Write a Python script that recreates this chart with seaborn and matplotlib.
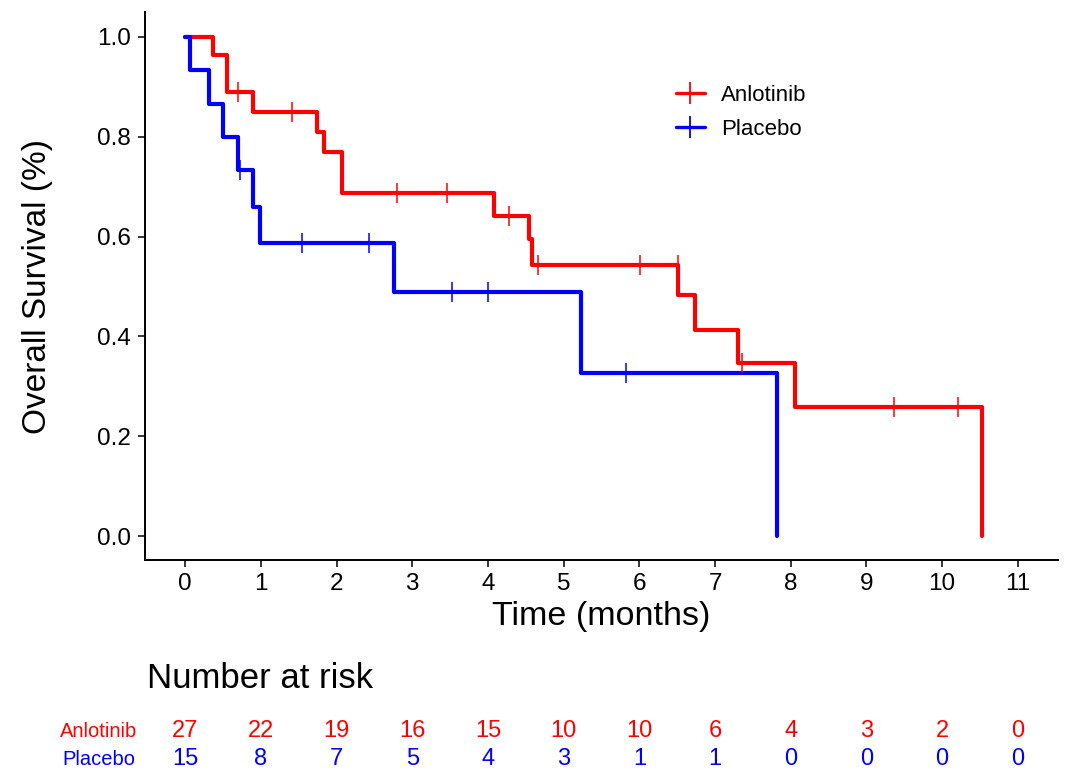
import numpy as np
import pandas as pd
import matplotlib
matplotlib.use("Agg")
import matplotlib.pyplot as plt
import matplotlib.transforms as mtransforms
from matplotlib.lines import Line2D
import seaborn as sns

# ---- data ----
anl_time = [0.0, 0.37, 0.55, 0.90, 1.74, 1.84, 2.07, 4.08, 4.54, 4.58, 6.51, 6.74, 7.30, 8.05, 10.53]
anl_surv = [1.0, 0.963, 0.889, 0.850, 0.810, 0.769, 0.688, 0.641, 0.595, 0.543, 0.483, 0.413, 0.347, 0.259, 0.0]
anl_censor = [0.70, 1.41, 2.80, 3.46, 4.28, 4.66, 6.01, 6.51, 7.35, 9.37, 10.21]

pla_time = [0.0, 0.07, 0.31, 0.50, 0.70, 0.90, 0.99, 2.76, 5.23, 7.82]
pla_surv = [1.0, 0.933, 0.866, 0.800, 0.733, 0.660, 0.587, 0.489, 0.326, 0.0]
pla_censor = [0.73, 1.55, 2.43, 3.52, 4.00, 5.82]

groups = ["Anlotinib", "Placebo"]
colors = {"Anlotinib": "#FF0000", "Placebo": "#0000FF"}

risk_times = list(range(0, 12))
risk_anl = [27, 22, 19, 16, 15, 10, 10, 6, 4, 3, 2, 0]
risk_pla = [15, 8, 7, 5, 4, 3, 1, 1, 0, 0, 0, 0]

x_ticks = list(range(0, 12))
y_ticks = [0.0, 0.2, 0.4, 0.6, 0.8, 1.0]
y_ticklabels = ["0.0", "0.2", "0.4", "0.6", "0.8", "1.0"]

# ---- build tables ----
curve_df = pd.concat([
    pd.DataFrame({"time": anl_time, "surv": anl_surv, "group": "Anlotinib"}),
    pd.DataFrame({"time": pla_time, "surv": pla_surv, "group": "Placebo"}),
], ignore_index=True)


def level_before(times, survs, t):
    # survival level in effect just before / at time t (censor at an event time
    # sits on the upper level)
    idx = np.searchsorted(times, t, side="left") - 1
    return survs[max(idx, 0)]

cens_rows = []
for t in anl_censor:
    cens_rows.append((t, level_before(anl_time, anl_surv, t), "Anlotinib"))
for t in pla_censor:
    cens_rows.append((t, level_before(pla_time, pla_surv, t), "Placebo"))
cens_df = pd.DataFrame(cens_rows, columns=["time", "surv", "group"])

# ---- plot ----
sns.set_theme(style="ticks")
plt.rcParams["font.family"] = ["Liberation Sans", "DejaVu Sans"]
plt.rcParams["text.color"] = "black"
plt.rcParams["axes.labelcolor"] = "black"
plt.rcParams["xtick.color"] = "black"
plt.rcParams["ytick.color"] = "black"

fig = plt.figure(figsize=(10.8, 7.79), dpi=100)
ax = fig.add_axes([145 / 1080, 1 - 560 / 779, (1058 - 145) / 1080, (560 - 12) / 779])

sns.lineplot(data=curve_df, x="time", y="surv", hue="group", palette=colors,
             estimator=None, sort=False, drawstyle="steps-post", linewidth=3.0,
             legend=False, ax=ax)
sns.scatterplot(data=cens_df, x="time", y="surv", hue="group", palette=colors,
                marker="|", s=210, linewidth=1.1, legend=False, ax=ax, zorder=3)

ax.set_xlim(-0.53, 11.53)
ax.set_ylim(-0.048, 1.05)
ax.set_xticks(x_ticks)
ax.set_xticklabels([str(v) for v in x_ticks])
ax.set_yticks(y_ticks)
ax.set_yticklabels(y_ticklabels)
ax.tick_params(axis="both", direction="out", length=5, width=1.1, labelsize=17.5,
               colors="black", pad=4)
ax.tick_params(axis="y", pad=5)
for s in ["top", "right"]:
    ax.spines[s].set_visible(False)
for s in ["left", "bottom"]:
    ax.spines[s].set_linewidth(1.4)
    ax.spines[s].set_color("black")
ax.set_xlabel("Time (months)", fontsize=24.5, color="black")
ax.set_ylabel("Overall Survival (%)", fontsize=24, color="black")
ax.xaxis.set_label_coords(0.5, (560 - 616) / 548)
ax.xaxis.label.set_verticalalignment("center")
ax.yaxis.set_label_coords((37 - 145) / 913, 0.5)
ax.yaxis.label.set_verticalalignment("center")
ax.grid(False)

handles = [Line2D([0], [0], color=colors[g], linewidth=2.4, marker="|",
                  markersize=16.5, markeredgewidth=1.3) for g in groups]
ax.legend(handles, groups, loc="center left",
          bbox_to_anchor=((676 - 9 - 145) / 913, (560 - 112.5) / 548),
          borderaxespad=0, frameon=False, fontsize=16, handlelength=1.3,
          handletextpad=0.72, labelspacing=0.6)

# ---- number at risk table ----
tr = mtransforms.blended_transform_factory(ax.transData, fig.transFigure)
fig.text(147 / 1080, 1 - 688 / 779, "Number at risk", fontsize=25, ha="left",
         va="baseline", color="black")
for t, a, p in zip(risk_times, risk_anl, risk_pla):
    fig.text(t, 1 - 737 / 779, str(a), transform=tr, ha="center", va="baseline",
             fontsize=17, color=colors["Anlotinib"])
    fig.text(t, 1 - 765 / 779, str(p), transform=tr, ha="center", va="baseline",
             fontsize=17, color=colors["Placebo"])
fig.text(99 / 1080, 1 - 737 / 779, "Anlotinib", ha="center", va="baseline",
         fontsize=14.5, color=colors["Anlotinib"])
fig.text(99 / 1080, 1 - 765 / 779, "Placebo", ha="center", va="baseline",
         fontsize=14.5, color=colors["Placebo"])

fig.savefig("out.png", dpi=100, facecolor="white")
